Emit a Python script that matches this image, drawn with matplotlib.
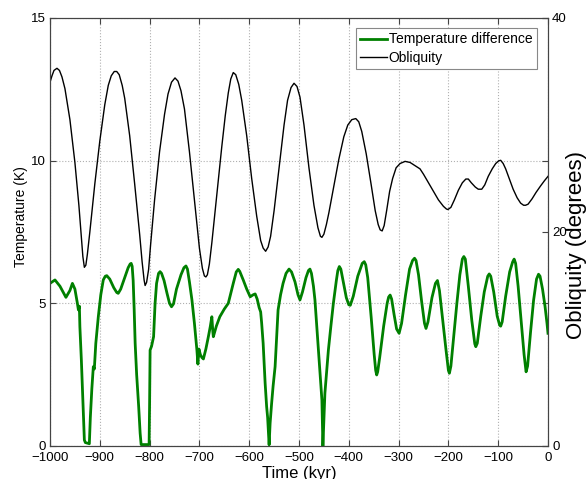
import matplotlib
matplotlib.use("Agg")
import matplotlib.pyplot as plt

plt.rcParams['font.family'] = ['Liberation Sans', 'DejaVu Sans']

# ---- data ----
temp_time = [-1000, -990, -980, -968, -960, -955, -950, -945, -943, -941,
             -940, -937, -934, -931, -929, -925, -921, -919, -916, -913,
             -911, -908, -903, -898, -893, -889, -886, -880, -872, -866,
             -863, -858, -850, -843, -839, -837, -835, -833, -831, -829,
             -826, -822, -819, -817, -810, -801, -800, -799, -796, -792,
             -789, -786, -782, -779, -776, -771, -765, -760, -756, -752,
             -746, -737, -731, -727, -724, -720, -715, -710, -705, -703,
             -701, -698, -695, -692, -687, -682, -678, -675, -673, -672,
             -666, -659, -650, -642, -637, -632, -626, -622, -619, -612,
             -605, -598, -592, -588, -584, -580, -577, -575, -572, -568,
             -565, -563, -560, -558, -555, -552, -548, -545, -542, -537,
             -532, -526, -520, -515, -508, -502, -498, -493, -486, -481,
             -478, -475, -471, -468, -461, -454, -452, -448, -441, -436,
             -431, -425, -422, -419, -416, -411, -405, -400, -397, -391,
             -382, -373, -369, -366, -362, -355, -349, -346, -344, -342,
             -338, -330, -323, -320, -317, -314, -309, -304, -299, -294,
             -286, -278, -272, -268, -265, -260, -254, -248, -245, -241,
             -233, -226, -222, -218, -212, -205, -200, -198, -195, -189,
             -183, -177, -172, -169, -166, -160, -153, -147, -145, -142,
             -135, -128, -121, -118, -115, -109, -102, -97, -95, -92,
             -85, -77, -71, -68, -65, -60, -54, -48, -44, -41,
             -35, -29, -23, -19, -16, -11, -6, -2, 0]
temp_diff = [5.70, 5.82, 5.60, 5.21, 5.45, 5.70, 5.50, 5.00, 4.77, 4.90,
             4.18, 3.00, 1.60, 0.21, 0.12, 0.10, 0.08, 1.00, 2.00, 2.78,
             2.70, 3.60, 4.53, 5.30, 5.82, 5.95, 5.97, 5.85, 5.55, 5.38,
             5.35, 5.50, 5.90, 6.25, 6.38, 6.40, 6.30, 5.80, 4.80, 3.60,
             2.50, 1.40, 0.45, 0.05, 0.05, 0.05, 1.50, 3.36, 3.50, 3.83,
             5.00, 5.70, 6.05, 6.11, 6.05, 5.80, 5.35, 5.00, 4.88, 4.98,
             5.50, 6.00, 6.25, 6.31, 6.20, 5.75, 5.12, 4.30, 3.36, 2.87,
             3.40, 3.20, 3.10, 3.05, 3.40, 3.83, 4.20, 4.53, 4.00, 3.83,
             4.20, 4.53, 4.80, 5.00, 5.35, 5.70, 6.10, 6.19, 6.12, 5.82,
             5.50, 5.23, 5.30, 5.33, 5.15, 4.85, 4.70, 4.31, 3.60, 2.20,
             1.38, 1.00, 0.04, 0.80, 1.49, 2.10, 2.78, 3.80, 4.77, 5.30,
             5.70, 6.05, 6.20, 6.10, 5.75, 5.30, 5.12, 5.40, 5.90, 6.15,
             6.20, 6.05, 5.60, 5.12, 3.36, 1.61, 0.00, 1.85, 3.36, 4.20,
             5.00, 5.80, 6.15, 6.29, 6.20, 5.75, 5.20, 4.95, 4.93, 5.25,
             5.95, 6.40, 6.46, 6.35, 5.90, 4.50, 3.20, 2.65, 2.49, 2.60,
             3.10, 4.20, 5.00, 5.22, 5.29, 5.15, 4.60, 4.10, 3.95, 4.30,
             5.30, 6.20, 6.50, 6.58, 6.50, 6.00, 5.10, 4.30, 4.12, 4.35,
             5.20, 5.70, 5.80, 5.45, 4.50, 3.40, 2.65, 2.55, 2.80, 3.90,
             5.00, 6.00, 6.55, 6.64, 6.55, 5.60, 4.40, 3.58, 3.48, 3.60,
             4.55, 5.40, 5.95, 6.03, 5.95, 5.40, 4.55, 4.23, 4.20, 4.35,
             5.25, 6.10, 6.45, 6.55, 6.40, 5.60, 4.40, 3.20, 2.60, 2.80,
             4.00, 5.10, 5.85, 6.02, 5.95, 5.50, 4.90, 4.30, 3.95]

obl_time = [-1000, -996, -992, -986, -981, -976, -970, -960, -950, -942,
            -937, -934, -931, -928, -925, -920, -910, -900, -890, -883,
            -877, -871, -866, -861, -855, -850, -840, -830, -820, -815,
            -811, -809, -806, -802, -798, -790, -780, -770, -763, -756,
            -749, -743, -737, -730, -720, -710, -700, -694, -690, -687,
            -684, -680, -675, -665, -655, -648, -642, -637, -632, -627,
            -621, -615, -605, -595, -585, -577, -572, -567, -562, -557,
            -550, -540, -530, -523, -516, -510, -504, -498, -490, -480,
            -470, -462, -457, -454, -450, -445, -440, -430, -420, -410,
            -402, -394, -386, -380, -374, -365, -355, -347, -341, -337,
            -333, -329, -324, -318, -312, -305, -297, -287, -277, -267,
            -257, -250, -240, -231, -220, -210, -204, -201, -195, -188,
            -180, -172, -165, -160, -154, -146, -140, -133, -127, -120,
            -112, -105, -99, -95, -90, -85, -78, -70, -62, -55,
            -49, -45, -40, -32, -24, -15, -7, 0]
obliquity = [34.0, 34.6, 35.1, 35.3, 35.1, 34.5, 33.4, 30.5, 26.5, 22.5,
             19.5, 17.7, 16.7, 16.9, 17.9, 20.0, 24.5, 28.5, 31.9, 33.7,
             34.6, 35.0, 35.0, 34.7, 33.7, 32.5, 29.0, 24.5, 19.8, 17.2,
             15.5, 15.0, 15.3, 16.5, 18.8, 23.0, 27.5, 31.0, 32.9, 34.0,
             34.4, 34.1, 33.2, 31.5, 27.5, 23.0, 18.5, 16.6, 15.9, 15.8,
             16.0, 17.0, 19.0, 23.5, 28.0, 30.9, 33.0, 34.3, 34.9, 34.7,
             33.8, 32.3, 29.0, 25.0, 21.5, 19.2, 18.5, 18.2, 18.6, 19.6,
             22.0, 26.0, 30.0, 32.3, 33.5, 33.9, 33.6, 32.6, 30.0, 26.0,
             22.5, 20.4, 19.6, 19.5, 19.8, 20.7, 21.8, 24.3, 26.8, 28.9,
             30.0, 30.5, 30.6, 30.3, 29.4, 27.3, 24.4, 22.0, 20.7, 20.2,
             20.1, 20.6, 22.0, 23.8, 25.0, 26.0, 26.4, 26.6, 26.5, 26.2,
             25.9, 25.4, 24.6, 23.9, 23.0, 22.4, 22.15, 22.1, 22.3, 23.0,
             23.9, 24.6, 24.95, 24.95, 24.6, 24.2, 24.0, 24.0, 24.4, 25.2,
             25.9, 26.4, 26.65, 26.7, 26.4, 25.9, 25.0, 24.0, 23.2, 22.7,
             22.5, 22.5, 22.6, 23.1, 23.7, 24.3, 24.8, 25.2]

x_ticks = [-1000, -900, -800, -700, -600, -500, -400, -300, -200, -100, 0]
t_ticks = [0, 5, 10, 15]
o_ticks = [0, 20, 40]

# ---- figure ----
fig = plt.figure(figsize=(5.88, 4.79), dpi=100)
ax1 = fig.add_axes([50/588, 1-446/479, 498/588, 428/479])
ax2 = ax1.twinx()

spine_col = '#444444'
l1, = ax1.plot(temp_time, temp_diff, color='#008000', lw=2.0, label='Temperature difference',
               solid_joinstyle='round')
l2, = ax2.plot(obl_time, obliquity, color='black', lw=1.0, label='Obliquity')

ax1.set_xlim(-1000, 0)
ax1.set_ylim(0, 15)
ax2.set_ylim(0, 40)
ax1.set_xticks(x_ticks)
ax1.set_yticks(t_ticks)
ax2.set_yticks(o_ticks)

ax1.grid(True, linestyle=':', color='#b0b0b0', lw=0.8)
ax1.tick_params(direction='in', length=4, labelsize=9.5, top=True, right=True,
                color=spine_col)
ax1.tick_params(axis='x', pad=4)
ax1.tick_params(axis='y', pad=3)
ax2.tick_params(direction='in', length=4, labelsize=9.5, color=spine_col, pad=3)
for ax in (ax1, ax2):
    for s in ax.spines.values():
        s.set_color(spine_col)
        s.set_linewidth(0.8)

ax1.set_xlabel('Time (kyr)', fontsize=12)
ax1.xaxis.set_label_coords(0.5, -0.047)
ax1.set_ylabel('Temperature (K)', fontsize=10)
ax1.yaxis.set_label_coords(-0.044, 0.535)
ax2.set_ylabel('Obliquity (degrees)', fontsize=16)
ax2.yaxis.set_label_coords(1.036, 0.47)

leg = ax2.legend([l1, l2], ['Temperature difference', 'Obliquity'], loc='upper right',
                 bbox_to_anchor=(0.977, 0.976), borderaxespad=0, fontsize=10,
                 fancybox=False, framealpha=1, edgecolor='#888888', handlelength=1.9,
                 handletextpad=0.15, labelspacing=0.3, borderpad=0.3)
leg.get_frame().set_linewidth(0.8)

fig.savefig('out.png', dpi=100)
